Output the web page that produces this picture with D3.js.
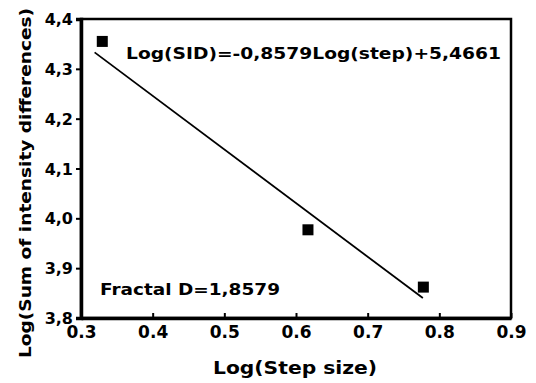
<!DOCTYPE html>
<html><head><meta charset="utf-8">
<script src="https://cdn.jsdelivr.net/npm/d3@7"></script>
<style>body{margin:0;background:#fff}svg text{font-family:"DejaVu Sans",sans-serif;font-weight:bold;fill:#000}</style>
</head><body><svg id="c" width="536" height="383"></svg>
<script>
const pointsX = [0.329, 0.616, 0.777];
const pointsY = [4.356, 3.978, 3.863];
const fitX = [0.319, 0.777];
const fitY = [4.333, 3.840];
const xTicks = [0.3, 0.4, 0.5, 0.6, 0.7, 0.8, 0.9];
const yTicks = [3.8, 3.9, 4.0, 4.1, 4.2, 4.3, 4.4];
const equationText = "Log(SID)=-0,8579Log(step)+5,4661";
const fractalText = "Fractal D=1,8579";

const svg = d3.select("#c");
const L = 81, R = 511, T = 19, B = 318;
const x = d3.scaleLinear().domain([0.3, 0.9]).range([L, R]);
const y = d3.scaleLinear().domain([3.8, 4.4]).range([B, T]);

svg.append("rect").attr("x", L).attr("y", T).attr("width", R - L).attr("height", B - T)
  .attr("fill", "none").attr("stroke", "#000").attr("stroke-width", 2.5);

const ya = svg.append("g").attr("transform", `translate(${L},0)`)
  .call(d3.axisLeft(y).tickValues(yTicks).tickSize(5).tickPadding(3)
    .tickFormat(d => d3.format(".1f")(d).replace(".", ",")));
ya.select(".domain").attr("stroke-width", 3.5);
ya.selectAll("line").attr("stroke-width", 2);
ya.selectAll("text").style("font-size", "16px").attr("dy", "0.35em");

const xa = svg.append("g").attr("transform", `translate(0,${B})`)
  .call(d3.axisBottom(x).tickValues(xTicks).tickSizeInner(-5).tickSizeOuter(0).tickPadding(8)
    .tickFormat(d3.format(".1f")));
xa.select(".domain").attr("stroke-width", 3.5);
xa.selectAll("line").attr("stroke-width", 2);
xa.selectAll("text").style("font-size", "17px");

svg.append("line").attr("x1", x(fitX[0])).attr("y1", y(fitY[0]))
  .attr("x2", x(fitX[1])).attr("y2", y(fitY[1]))
  .attr("stroke", "#000").attr("stroke-width", 1.8);

svg.selectAll("rect.pt").data(pointsX).enter().append("rect").attr("class", "pt")
  .attr("x", (d) => x(d) - 5).attr("y", (d, i) => y(pointsY[i]) - 5)
  .attr("width", 11).attr("height", 11).attr("fill", "#000");

svg.append("text").attr("x", 126).attr("y", 59).style("font-size", "15px")
  .attr("textLength", 375).attr("lengthAdjust", "spacingAndGlyphs").text(equationText);
svg.append("text").attr("x", 100).attr("y", 295).style("font-size", "16px")
  .attr("textLength", 180).attr("lengthAdjust", "spacingAndGlyphs").text(fractalText);

svg.append("text").attr("x", 295).attr("y", 374).attr("text-anchor", "middle")
  .style("font-size", "18px").attr("textLength", 164).attr("lengthAdjust", "spacingAndGlyphs")
  .text("Log(Step size)");
svg.append("text").attr("transform", "translate(31,183) rotate(-90)").attr("text-anchor", "middle")
  .style("font-size", "16px").attr("textLength", 350).attr("lengthAdjust", "spacingAndGlyphs")
  .text("Log(Sum of intensity differences)");
</script></body></html>
